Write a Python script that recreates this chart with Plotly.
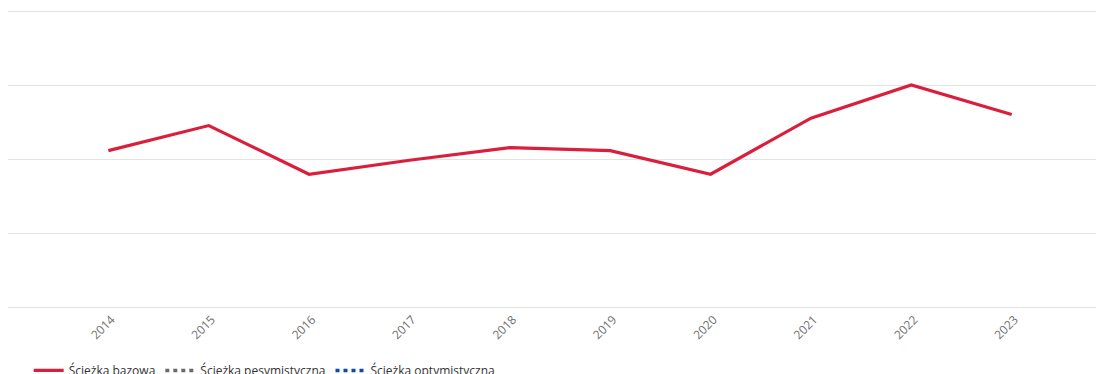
import plotly.graph_objects as go

# ─── DATA ─────────────────────────────────────────────
YEARS = ["2014", "2015", "2016", "2017", "2018", "2019", "2020", "2021", "2022", "2023"]
BAZOWA = [2.12, 2.46, 1.80, 1.99, 2.16, 2.12, 1.80, 2.56, 3.01, 2.61]
# the alternative paths have no drawn values, only legend entries
PESYMISTYCZNA = [None] * len(YEARS)
OPTYMISTYCZNA = [None] * len(YEARS)

RED = "#DA1F3D"
GREY = "#6B6B6B"
BLUE = "#0B4EA2"
GRID = "#E3E3E3"

fig = go.Figure()
fig.add_trace(go.Scatter(
    x=YEARS, y=BAZOWA, name="Ścieżka bazowa", mode="lines",
    line=dict(color=RED, width=3.2),
))
fig.add_trace(go.Scatter(
    x=YEARS, y=PESYMISTYCZNA, name="Ścieżka pesymistyczna", mode="lines",
    line=dict(color=GREY, width=3.5, dash="4px,4px"),
))
fig.add_trace(go.Scatter(
    x=YEARS, y=OPTYMISTYCZNA, name="Ścieżka optymistyczna", mode="lines",
    line=dict(color=BLUE, width=3.5, dash="4px,4px"),
))

fig.update_layout(
    width=1096, height=374,
    paper_bgcolor="white", plot_bgcolor="white",
    font=dict(family="Open Sans", color="#333333", size=12),
    margin=dict(l=8, r=0, t=12, b=67, autoexpand=False),
    xaxis=dict(
        type="category", range=[-1, 9.84],
        showgrid=False, zeroline=False,
        showline=True, mirror=True, linecolor=GRID, linewidth=1,
        tickangle=-45, tickfont=dict(size=12, color="#707070"),
        ticks="", ticklabelshift=3,
    ),
    yaxis=dict(
        range=[0, 4], tickvals=[0, 1, 2, 3, 4], showticklabels=False,
        gridcolor=GRID, gridwidth=1, zeroline=False, showline=False,
    ),
    legend=dict(
        orientation="h", x=0.019, xanchor="left", y=-0.166, yanchor="top",
        font=dict(size=12, color="#333333"),
        itemwidth=30,
    ),
    showlegend=True,
)

# drop the default page margin so the figure fills the window exactly
fig.write_html(
    "out.html",
    config={"displayModeBar": False},
    post_script="document.body.style.margin='0';document.body.style.overflow='hidden';",
)
